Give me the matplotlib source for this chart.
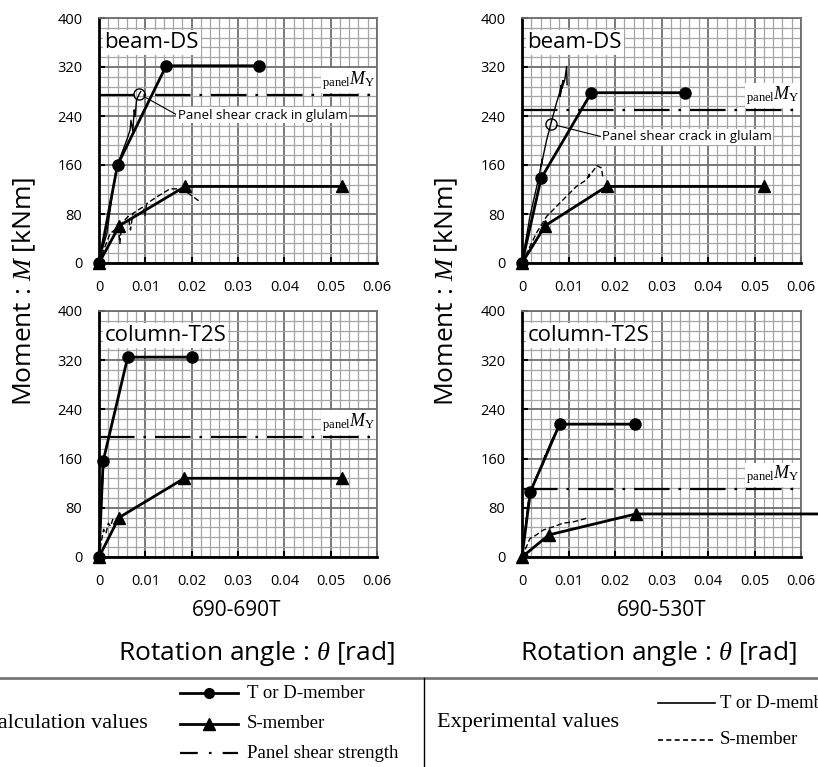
import matplotlib
matplotlib.use('Agg')
import matplotlib.pyplot as plt
from matplotlib.ticker import MultipleLocator

# ---- data (rotation [rad], moment [kNm]) ----
x_ticks = [0, 0.01, 0.02, 0.03, 0.04, 0.05, 0.06]
x_tick_labels = ['0', '0.01', '0.02', '0.03', '0.04', '0.05', '0.06']
y_ticks = [0, 80, 160, 240, 320, 400]

# 690-690T, beam-DS
bl_calc_T_x = [0, 0.0040, 0.0145, 0.0345]
bl_calc_T_y = [0, 160, 322, 322]
bl_calc_S_x = [0, 0.0044, 0.0186, 0.0525]
bl_calc_S_y = [0, 61, 125, 125]
bl_panel_My = 274
bl_crack_x = [0.0087]
bl_crack_y = [276]
bl_exp_T_x = [0, 0.0008, 0.0017, 0.0031, 0.0038, 0.0049, 0.0060, 0.0067, 0.0069,
              0.0073, 0.0076, 0.0078, 0.0081, 0.0087, 0.0090]
bl_exp_T_y = [0, 25, 48, 125, 157, 179, 201, 217, 233, 215, 250, 239, 266, 276, 280]
bl_exp_S_x = [0, 0.0012, 0.0024, 0.0042, 0.0045, 0.0049, 0.0063, 0.0068, 0.0073,
              0.0096, 0.0099, 0.0103, 0.0125, 0.0153, 0.0171, 0.0189, 0.0218]
bl_exp_S_y = [0, 25, 48, 59, 32, 65, 76, 54, 81, 92, 76, 97, 108, 121, 121, 116, 100]

# 690-530T, beam-DS
br_calc_T_x = [0, 0.0041, 0.0149, 0.0350]
br_calc_T_y = [0, 138, 278, 278]
br_calc_S_x = [0, 0.0050, 0.0182, 0.0520]
br_calc_S_y = [0, 61, 125, 125]
br_panel_My = 250
br_crack_x = [0.0062]
br_crack_y = [227]
br_exp_T_x = [0, 0.0017, 0.0035, 0.0042, 0.0044, 0.0041, 0.0046, 0.0053, 0.0062,
              0.0074, 0.0081, 0.0084, 0.0082, 0.0088, 0.0086, 0.0092, 0.0096, 0.0097]
br_exp_T_y = [0, 76, 136, 163, 170, 158, 176, 201, 227, 261, 278, 290, 272, 298,
              285, 299, 321, 291]
br_exp_S_x = [0, 0.0031, 0.0053, 0.0088, 0.0117, 0.0139, 0.0146, 0.0143, 0.0161,
              0.0171, 0.0174]
br_exp_S_y = [0, 49, 76, 103, 125, 136, 147, 140, 159, 155, 139]

# 690-690T, column-T2S
cl_calc_T_x = [0, 0.0009, 0.0062, 0.0201]
cl_calc_T_y = [0, 156, 325, 325]
cl_calc_S_x = [0, 0.0043, 0.0184, 0.0525]
cl_calc_S_y = [0, 64, 128, 128]
cl_panel_My = 195
cl_exp_T_x = [0, 0.0005, 0.0009, 0.0012]
cl_exp_T_y = [0, 80, 140, 165]
cl_exp_S_x = [0, 0.0005, 0.0010, 0.0015, 0.0020, 0.0025, 0.0030]
cl_exp_S_y = [0, 25, 45, 38, 55, 50, 62]

# 690-530T, column-T2S
cr_calc_T_x = [0, 0.0018, 0.0081, 0.0243]
cr_calc_T_y = [0, 106, 216, 216]
cr_calc_S_x = [0, 0.0058, 0.0245, 0.0650]
cr_calc_S_y = [0, 36, 70, 70]
cr_panel_My = 110
cr_exp_T_x = [0, 0.0013, 0.0018, 0.0031, 0.0046, 0.0049, 0.0047, 0.0053, 0.0064, 0.0081]
cr_exp_T_y = [0, 87, 106, 131, 152, 165, 155, 170, 190, 216]
cr_exp_S_x = [0, 0.0017, 0.0031, 0.0046, 0.0067, 0.0088, 0.0110, 0.0139]
cr_exp_S_y = [0, 30, 36, 44, 49, 55, 57, 63]

plt.rcParams['font.family'] = ['Open Sans', 'DejaVu Sans']
plt.rcParams['mathtext.fontset'] = 'custom'
plt.rcParams['mathtext.rm'] = 'Liberation Serif'
plt.rcParams['mathtext.it'] = 'Liberation Serif:italic'

MAJOR = '#6e6e6e'
MINOR = '#a5a5a5'
DASHDOT = (0, (16, 4, 1.2, 4))


def draw_panel(ax, name, calc_T, calc_S, My, exp_T, exp_S, crack=None, note_xy=None, s_marks=None):
    ax.set_xlim(0, 0.06)
    ax.set_ylim(0, 400)
    ax.set_xticks(x_ticks)
    ax.set_xticklabels(x_tick_labels)
    ax.set_yticks(y_ticks)
    ax.xaxis.set_minor_locator(MultipleLocator(0.002))
    ax.yaxis.set_minor_locator(MultipleLocator(16))
    ax.grid(which='minor', color=MINOR, lw=0.9)
    ax.grid(which='major', color=MAJOR, lw=1.3)
    ax.set_axisbelow(True)
    ax.tick_params(which='major', direction='in', length=4, width=1.5, pad=12, labelsize=10.5)
    ax.tick_params(which='minor', length=0)
    for s in ['left', 'bottom']:
        ax.spines[s].set_linewidth(2)
        ax.spines[s].set_color('black')
    for s in ['top', 'right']:
        ax.spines[s].set_linewidth(1.3)
        ax.spines[s].set_color(MAJOR)

    # experimental curves
    ax.plot(exp_T[0], exp_T[1], color='black', lw=1.0, zorder=4)
    ax.plot(exp_S[0], exp_S[1], color='black', lw=1.0, ls=(0, (4, 2)), zorder=4)

    # calculation values
    ax.axhline(My, color='black', lw=1.6, ls=DASHDOT, zorder=3)
    ax.plot(calc_T[0], calc_T[1], color='black', lw=2, marker='o', ms=8, zorder=5, clip_on=False)
    ax.plot(calc_S[0], calc_S[1], color='black', lw=2, marker='^', ms=9, zorder=5,
            markevery=s_marks, clip_on=False)
    ax.plot(calc_S[0][-1:], calc_S[1][-1:], lw=0)
    ax.set_xlim(0, 0.06)

    ax.text(0.0597, My + 5, r'${}_{\mathrm{panel}}M_{\mathrm{Y}}$', ha='right', va='bottom',
            fontsize=13, bbox=dict(fc='white', ec='none', pad=0.5), zorder=6)

    if crack is not None:
        ax.plot(crack[0], crack[1], 'o', mfc='none', mec='black', ms=8, mew=1, zorder=6)
        ax.annotate('Panel shear crack in glulam', xy=(crack[0][0], crack[1][0]), xytext=note_xy,
                    fontsize=9.5, ha='left', va='center', zorder=7,
                    bbox=dict(fc='white', ec='none', pad=1),
                    arrowprops=dict(arrowstyle='-', lw=0.8, color='black', shrinkA=0, shrinkB=4,
                                    relpos=(0, 0.5)))

    ax.text(0.02, 0.9, name, transform=ax.transAxes, fontsize=16, ha='left', va='center',
            bbox=dict(fc='white', ec='none', pad=1.5), zorder=7)


fig = plt.figure(figsize=(8.18, 7.67), dpi=100)

W, H = 818, 767
def box(l, t, r, b):
    return [l / W, 1 - b / H, (r - l) / W, (b - t) / H]

ax_bl = fig.add_axes(box(99, 18, 377, 263))
ax_br = fig.add_axes(box(522, 18, 801, 263))
ax_cl = fig.add_axes(box(99, 311, 377, 557))
ax_cr = fig.add_axes(box(522, 311, 801, 557))

draw_panel(ax_bl, 'beam-DS', (bl_calc_T_x, bl_calc_T_y), (bl_calc_S_x, bl_calc_S_y), bl_panel_My,
           (bl_exp_T_x, bl_exp_T_y), (bl_exp_S_x, bl_exp_S_y),
           crack=(bl_crack_x, bl_crack_y), note_xy=(0.0170, 241))
draw_panel(ax_br, 'beam-DS', (br_calc_T_x, br_calc_T_y), (br_calc_S_x, br_calc_S_y), br_panel_My,
           (br_exp_T_x, br_exp_T_y), (br_exp_S_x, br_exp_S_y),
           crack=(br_crack_x, br_crack_y), note_xy=(0.0172, 206))
draw_panel(ax_cl, 'column-T2S', (cl_calc_T_x, cl_calc_T_y), (cl_calc_S_x, cl_calc_S_y), cl_panel_My,
           (cl_exp_T_x, cl_exp_T_y), (cl_exp_S_x, cl_exp_S_y))
draw_panel(ax_cr, 'column-T2S', (cr_calc_T_x, cr_calc_T_y), (cr_calc_S_x, cr_calc_S_y), cr_panel_My,
           (cr_exp_T_x, cr_exp_T_y), (cr_exp_S_x, cr_exp_S_y), s_marks=[0, 1, 2])
ax_cr.lines[3].set_clip_on(True)

# overlay for shared labels and the legend table (pixel coordinates)
lax = fig.add_axes([0, 0, 1, 1], zorder=-1)
lax.set_xlim(0, W)
lax.set_ylim(H, 0)
lax.axis('off')

for xc in [24, 446]:
    lax.text(xc, 291, 'Moment : $M$ [kNm]', rotation=90, fontsize=19, ha='center', va='center')
lax.text(237, 610, '690-690T', fontsize=15, ha='center', va='center')
lax.text(662, 610, '690-530T', fontsize=15, ha='center', va='center')
lax.text(256, 653, r'Rotation angle : $\theta$ [rad]', fontsize=19, ha='center', va='center')
lax.text(658, 653, r'Rotation angle : $\theta$ [rad]', fontsize=19, ha='center', va='center')

lax.plot([0, W], [678, 678], color='#777777', lw=2)
lax.plot([424, 424], [678, H], color='black', lw=1)

serif = 'Liberation Serif'
lax.text(148, 723, 'Calculation values', family=serif, fontsize=16, ha='right', va='center')
lax.plot([180, 209, 238], [693, 693, 693], color='black', lw=2, marker='o', ms=7, markevery=[1])
lax.plot([180, 209, 238], [724, 724, 724], color='black', lw=2, marker='^', ms=8, markevery=[1])
lax.plot([180, 238], [753, 753], color='black', lw=1.6, ls=(0, (8, 5, 1.2, 5)))
lax.text(247, 693, 'T or D-member', family=serif, fontsize=13.5, va='center')
lax.text(247, 724, 'S-member', family=serif, fontsize=13.5, va='center')
lax.text(247, 753, 'Panel shear strength', family=serif, fontsize=13.5, va='center')

lax.text(437, 723, 'Experimental values', family=serif, fontsize=16, ha='left', va='center')
lax.plot([658, 715], [703, 703], color='black', lw=1.2)
lax.plot([658, 715], [740, 740], color='black', lw=1.2, ls=(0, (3, 2)))
lax.text(720, 703, 'T or D-member', family=serif, fontsize=13.5, va='center')
lax.text(720, 740, 'S-member', family=serif, fontsize=13.5, va='center')

fig.savefig('out.png', dpi=100)
